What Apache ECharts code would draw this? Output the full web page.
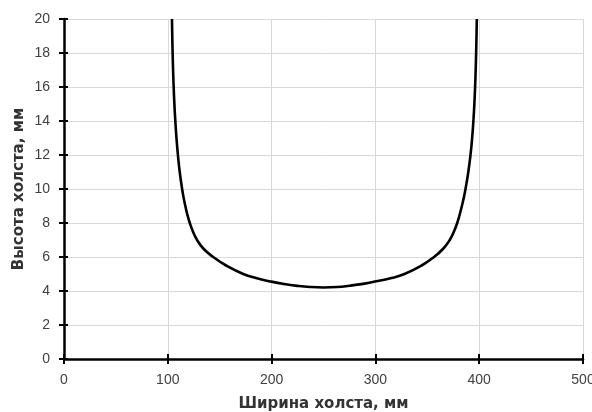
<!DOCTYPE html>
<html>
<head>
<meta charset="utf-8">
<script src="https://cdn.jsdelivr.net/npm/echarts@6/dist/echarts.min.js"></script>
<style>
html,body{margin:0;padding:0;background:#fff;}
#c{width:592px;height:412px;}
</style>
</head>
<body>
<div id="c"></div>
<script>
var widthMm = [104.0, 104.3, 104.65, 105.1, 105.65, 106.35, 107.25, 108.35, 109.75, 111.5, 113.8, 115.2, 116.9, 118.8, 121.2, 124.2, 128.2, 134.2, 143.7, 156.2, 172.7,
  185.0, 199.0, 212.0, 225.0, 237.0, 250.0, 263.0, 275.0, 288.0, 301.0, 315.5,
  328.0, 344.5, 356.5, 365.5, 371.6, 375.7, 378.8, 381.2, 383.3, 385.2, 386.8, 389.5, 391.6, 393.2, 394.4, 395.35, 396.05, 396.6, 397.05, 397.4, 397.7];
var heightMm = [20.0, 19.0, 18.0, 17.0, 16.0, 15.0, 14.0, 13.0, 12.0, 11.0, 10.0, 9.5, 9.0, 8.5, 8.0, 7.5, 7.0, 6.5, 6.0, 5.5, 5.0,
  4.76, 4.56, 4.41, 4.30, 4.235, 4.21, 4.235, 4.31, 4.42, 4.57, 4.76,
  5.0, 5.5, 6.0, 6.5, 7.0, 7.5, 8.0, 8.5, 9.0, 9.5, 10.0, 11.0, 12.0, 13.0, 14.0, 15.0, 16.0, 17.0, 18.0, 19.0, 20.0];
var xTitle = 'Ширина холста, мм';
var yTitle = 'Высота холста, мм';
var xRange = [0, 500, 100];
var yRange = [0, 20, 2];

var points = widthMm.map(function (w, i) { return [w, heightMm[i]]; });

var labelStyle = { color: '#404040', fontSize: 14, fontFamily: 'Liberation Sans, Arial, sans-serif' };
var titleStyle = { color: '#333', fontSize: 15, fontWeight: 'bold', fontFamily: 'DejaVu Sans, sans-serif' };
var chart = echarts.init(document.getElementById('c'), null, { renderer: 'canvas' });
chart.setOption({
  animation: false,
  backgroundColor: '#ffffff',
  grid: { left: 64, right: 9, top: 19, bottom: 53, containLabel: false, outerBoundsMode: 'none' },
  xAxis: [{
    type: 'value', min: xRange[0], max: xRange[1], interval: xRange[2],
    position: 'bottom',
    name: xTitle, nameLocation: 'middle', nameGap: 38, nameMoveOverlap: false,
    nameTextStyle: titleStyle,
    axisLine: { show: true, onZero: false, lineStyle: { color: '#000', width: 2.5 } },
    axisTick: { show: true, inside: false, length: 5, lineStyle: { color: '#000', width: 2 } },
    axisLabel: Object.assign({ margin: 14 }, labelStyle),
    splitLine: { show: true, lineStyle: { color: '#d9d9d9', width: 1 } }
  }, {
    type: 'value', min: xRange[0], max: xRange[1], interval: xRange[2],
    position: 'bottom',
    axisLine: { show: false },
    axisTick: { show: true, inside: true, length: 5, lineStyle: { color: '#000', width: 2 } },
    axisLabel: { show: false },
    splitLine: { show: false }
  }],
  yAxis: [{
    type: 'value', min: yRange[0], max: yRange[1], interval: yRange[2],
    position: 'left',
    name: yTitle, nameLocation: 'middle', nameGap: 37, nameRotate: 90, nameMoveOverlap: false,
    nameTextStyle: titleStyle,
    axisLine: { show: true, onZero: false, lineStyle: { color: '#000', width: 2.5 } },
    axisTick: { show: true, inside: false, length: 5, lineStyle: { color: '#000', width: 2 } },
    axisLabel: Object.assign({ margin: 14 }, labelStyle),
    splitLine: { show: true, lineStyle: { color: '#d9d9d9', width: 1 } }
  }, {
    type: 'value', min: yRange[0], max: yRange[1], interval: yRange[2],
    position: 'left',
    axisLine: { show: false },
    axisTick: { show: true, inside: true, length: 4, lineStyle: { color: '#000', width: 2 } },
    axisLabel: { show: false },
    splitLine: { show: false }
  }],
  series: [{
    type: 'line',
    xAxisIndex: 0, yAxisIndex: 0,
    data: points,
    showSymbol: false,
    smooth: 0.5,
    clip: true,
    lineStyle: { color: '#000', width: 2.6 }
  }]
});
</script>
</body>
</html>
